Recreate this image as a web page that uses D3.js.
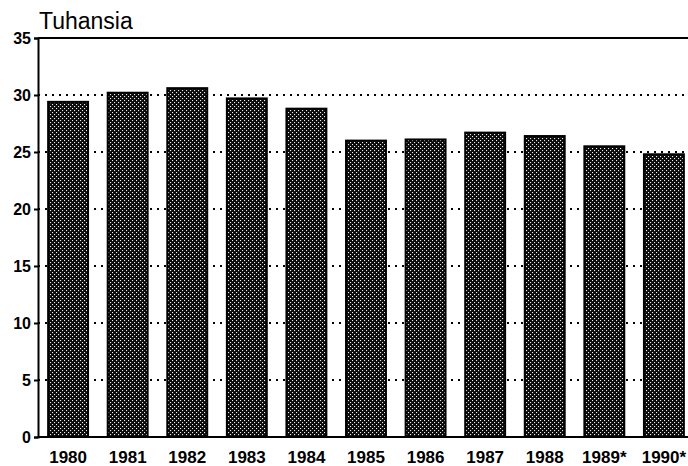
<!DOCTYPE html>
<html><head><meta charset="utf-8">
<script src="https://cdn.jsdelivr.net/npm/d3@7"></script>
<style>
html,body{margin:0;padding:0;background:#fff;}
svg{display:block;}
text{font-family:"Liberation Sans",Arial,Helvetica,sans-serif;fill:#000;}
</style></head>
<body>
<svg id="chart" width="688" height="466"></svg>
<script>
const years = ["1980","1981","1982","1983","1984","1985","1986","1987","1988","1989*","1990*"];
const values = [29.4, 30.2, 30.6, 29.7, 28.8, 26.0, 26.1, 26.7, 26.4, 25.5, 24.8];
const yTicks = [0, 5, 10, 15, 20, 25, 30, 35];
const unitLabel = "Tuhansia";

(function(){
const svg = d3.select("#chart");
const mLeft = 38, mTop = 38, mBottom = 437, mRight = 688;

// pattern: black with white dots
const defs = svg.append("defs");
const pat = defs.append("pattern").attr("id","dots").attr("patternUnits","userSpaceOnUse")
  .attr("width",4).attr("height",4);
pat.append("rect").attr("width",4).attr("height",4).attr("fill","#0a0a0a");
pat.append("rect").attr("x",0).attr("y",0).attr("width",1.1).attr("height",1.1).attr("fill","#eee");
pat.append("rect").attr("x",2).attr("y",2).attr("width",1.1).attr("height",1.1).attr("fill","#eee");

const x = d3.scaleBand().domain(years).range([mLeft, 694]).paddingInner(0.33).paddingOuter(0.17);
const y = d3.scaleLinear().domain([0, 35]).range([mBottom, mTop]);

// dotted gridlines
svg.append("g").selectAll("line").data(yTicks.filter(t => t > 0 && t < 35)).join("line")
  .attr("x1", mLeft).attr("x2", mRight)
  .attr("y1", d => y(d)).attr("y2", d => y(d))
  .attr("stroke","#000").attr("stroke-width",2).attr("stroke-dasharray","2,5");

// top line at 35
svg.append("line").attr("x1", mLeft).attr("x2", mRight).attr("y1", y(35)).attr("y2", y(35))
  .attr("stroke","#000").attr("stroke-width",2);

// bars
svg.append("g").selectAll("rect").data(years).join("rect")
  .attr("x", d => x(d)).attr("width", x.bandwidth())
  .attr("y", (d,i) => y(values[i])).attr("height", (d,i) => y(0) - y(values[i]))
  .attr("fill","url(#dots)").attr("stroke","#000").attr("stroke-width",2);

// y axis
const yAxis = svg.append("g").attr("transform", `translate(${mLeft},0)`)
  .call(d3.axisLeft(y).tickValues(yTicks).tickSize(4).tickPadding(3));
yAxis.select(".domain").attr("stroke","#000").attr("stroke-width",2);
yAxis.selectAll(".tick line").attr("stroke","#000").attr("stroke-width",2);
yAxis.selectAll("text").attr("font-size","16px").attr("font-weight","bold");

// x axis
const xAxis = svg.append("g").attr("transform", `translate(0,${mBottom})`)
  .call(d3.axisBottom(x).tickSize(0).tickPadding(12));
xAxis.select(".domain").remove();
xAxis.selectAll("text").attr("font-size","17px").attr("font-weight","bold").attr("dy","0.85em");
svg.append("line").attr("x1", mLeft).attr("x2", mRight).attr("y1", mBottom).attr("y2", mBottom)
  .attr("stroke","#000").attr("stroke-width",2);

// title
svg.append("text").attr("x", 39).attr("y", 29).attr("font-size","23px").text(unitLabel);
})();
</script>
</body></html>
